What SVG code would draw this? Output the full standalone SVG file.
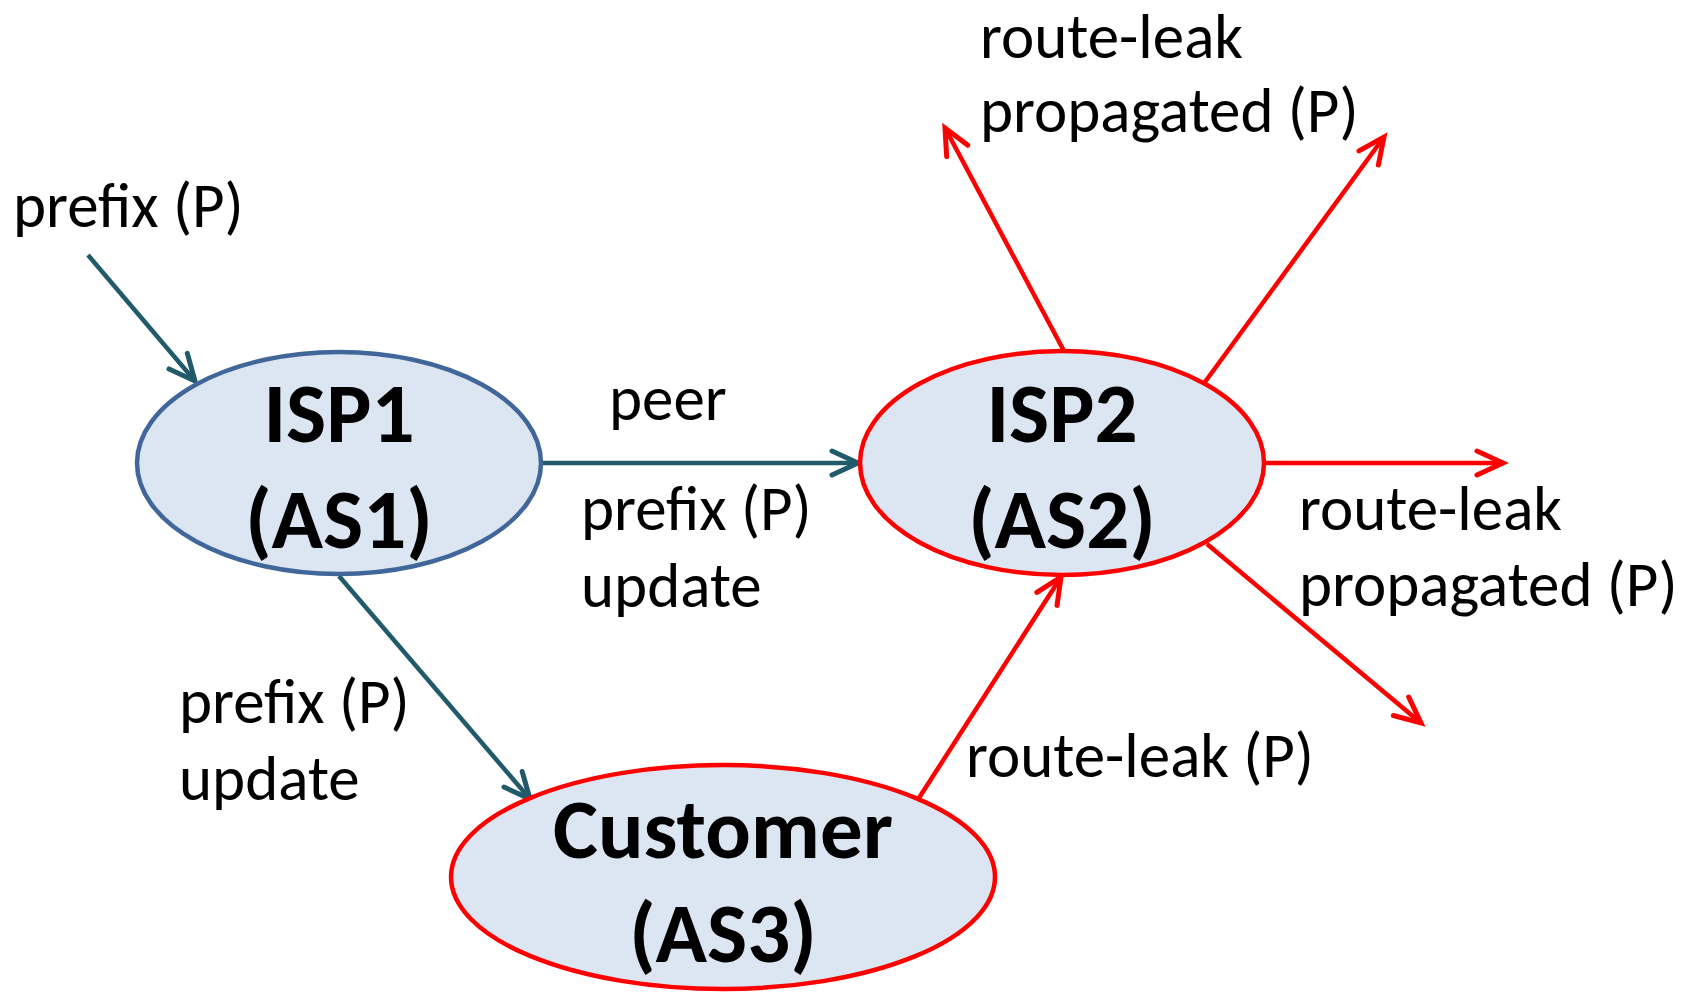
<svg xmlns="http://www.w3.org/2000/svg" width="1697" height="992" viewBox="0 0 1697 992">
<style>
.lbl{font-family:Carlito,Lato,"Open Sans",sans-serif;font-size:63px;fill:#000}
.nm{font-family:Carlito,Lato,"Open Sans",sans-serif;font-size:85px;font-weight:bold;fill:#000;text-anchor:middle}
.node{fill:#DCE6F2;stroke-width:4.5}
.teal{stroke:#215A6A;stroke-width:4.5;fill:none}
.red{stroke:#FF0000;stroke-width:4.5;fill:none}
</style>
<defs>
<marker id="aT" markerUnits="userSpaceOnUse" markerWidth="40" markerHeight="40" refX="32" refY="20" orient="auto">
<path d="M6,8 L32,20 L6,32" fill="none" stroke="#215A6A" stroke-width="5" stroke-linecap="round"/>
</marker>
<marker id="aR" markerUnits="userSpaceOnUse" markerWidth="40" markerHeight="40" refX="32" refY="20" orient="auto">
<path d="M6,8 L32,20 L6,32" fill="none" stroke="#FF0000" stroke-width="5" stroke-linecap="round"/>
</marker>
</defs>
<rect width="1697" height="992" fill="#fff"/>
<g id="connectors">
<line class="teal" x1="88" y1="255" x2="195" y2="381" marker-end="url(#aT)"/>
<line class="teal" x1="541" y1="463" x2="858" y2="463" marker-end="url(#aT)"/>
<line class="teal" x1="339" y1="576" x2="530" y2="799" marker-end="url(#aT)"/>
<line class="red" x1="917" y1="801" x2="1061" y2="577" marker-end="url(#aR)"/>
<line class="red" x1="1064" y1="351" x2="945" y2="128" marker-end="url(#aR)"/>
<line class="red" x1="1205" y1="382" x2="1384" y2="137" marker-end="url(#aR)"/>
<line class="red" x1="1264" y1="463" x2="1503" y2="463" marker-end="url(#aR)"/>
<line class="red" x1="1207" y1="544" x2="1421" y2="723" marker-end="url(#aR)"/>
</g>
<g id="isp1">
<ellipse class="node" cx="339" cy="463" rx="202" ry="111" stroke="#41669A"/>
<text class="nm" x="339" y="442">ISP1</text>
<text class="nm" x="339" y="548">(AS1)</text>
</g>
<g id="isp2">
<ellipse class="node" cx="1062" cy="463" rx="202" ry="112" stroke="#FF0000"/>
<text class="nm" x="1062" y="442">ISP2</text>
<text class="nm" x="1062" y="548">(AS2)</text>
</g>
<g id="customer">
<ellipse class="node" cx="723" cy="877" rx="272" ry="112" stroke="#FF0000"/>
<text class="nm" x="723" y="858">Customer</text>
<text class="nm" x="723" y="962">(AS3)</text>
</g>
<g id="labels">
<text class="lbl" x="13" y="227">prefix (P)</text>
<text class="lbl" x="609" y="420">peer</text>
<text class="lbl" x="581" y="530">prefix (P)</text>
<text class="lbl" x="581" y="607">update</text>
<text class="lbl" x="179" y="723">prefix (P)</text>
<text class="lbl" x="179" y="800">update</text>
<text class="lbl" x="966" y="777">route-leak (P)</text>
<text class="lbl" x="980" y="58">route-leak</text>
<text class="lbl" x="980" y="132">propagated (P)</text>
<text class="lbl" x="1299" y="530">route-leak</text>
<text class="lbl" x="1299" y="606">propagated (P)</text>
</g>
</svg>
